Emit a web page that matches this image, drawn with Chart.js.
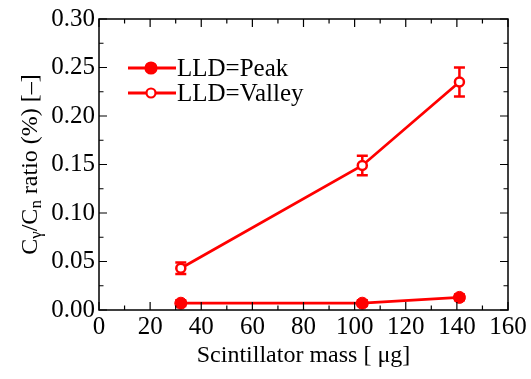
<!DOCTYPE html>
<html>
<head>
<meta charset="utf-8">
<script src="https://cdn.jsdelivr.net/npm/chart.js@4"></script>
<style>
  html, body { margin: 0; padding: 0; background: #fff; }
  #wrap { width: 531px; height: 379px; position: relative; }
</style>
</head>
<body>
<div id="wrap"><canvas id="c" width="531" height="379"></canvas></div>
<script>
// ---- data ----
const masses = [32, 103, 141];
const peakRatio = [0.007, 0.007, 0.013];
const peakErr = [0.003, 0.003, 0.003];
const valleyRatio = [0.043, 0.149, 0.235];
const valleyErr = [0.006, 0.010, 0.015];
const seriesLabels = ['LLD=Peak', 'LLD=Valley'];
const xTitle = 'Scintillator mass [ \u03bcg]';
const yTitleParts = [['C', 0], ['\u03b3', 1], ['/C', 0], ['n', 1], [' ratio (%) [\u2013]', 0]];

const FONT = "'Liberation Serif', 'Times New Roman', serif";
const FS = 25;   // ticks & legend
const FT = 24;   // axis titles
const RED = '#ff0000';

const errors = [peakErr, valleyErr];

const framePlugin = {
  id: 'frame',
  beforeDatasetsDraw(chart) {
    const ctx = chart.ctx, xs = chart.scales.x, ys = chart.scales.y;
    ctx.save();
    ctx.strokeStyle = RED;
    ctx.lineWidth = 2.5;
    chart.data.datasets.forEach((ds, i) => {
      ds.data.forEach((p, j) => {
        const e = errors[i][j];
        const px = xs.getPixelForValue(p.x);
        const y1 = ys.getPixelForValue(p.y - e), y2 = ys.getPixelForValue(p.y + e);
        ctx.beginPath();
        ctx.moveTo(px, y1); ctx.lineTo(px, y2);
        ctx.moveTo(px - 5.5, y1); ctx.lineTo(px + 5.5, y1);
        ctx.moveTo(px - 5.5, y2); ctx.lineTo(px + 5.5, y2);
        ctx.stroke();
      });
    });
    ctx.restore();
  },
  afterDraw(chart) {
    const ctx = chart.ctx, a = chart.chartArea, xs = chart.scales.x, ys = chart.scales.y;
    ctx.save();
    ctx.strokeStyle = '#000';
    ctx.lineWidth = 1.5;
    ctx.strokeRect(a.left, a.top, a.right - a.left, a.bottom - a.top);
    ctx.lineWidth = 1.2;
    ctx.beginPath();
    for (let v = 0; v <= 160; v += 10) {
      const px = xs.getPixelForValue(v);
      const L = (v % 20 === 0) ? 8 : 4.5;
      ctx.moveTo(px, a.bottom); ctx.lineTo(px, a.bottom - L);
      ctx.moveTo(px, a.top); ctx.lineTo(px, a.top + L);
    }
    for (let k = 0; k <= 12; k++) {
      const v = k * 0.025;
      const py = ys.getPixelForValue(v);
      const L = (k % 2 === 0) ? 8 : 4.5;
      ctx.moveTo(a.left, py); ctx.lineTo(a.left + L, py);
      ctx.moveTo(a.right, py); ctx.lineTo(a.right - L, py);
    }
    ctx.stroke();

    // legend
    const rows = [68, 93];
    chart.data.datasets.forEach((ds, i) => {
      const y = rows[i];
      ctx.strokeStyle = RED; ctx.lineWidth = 2.8;
      ctx.beginPath(); ctx.moveTo(128, y); ctx.lineTo(176, y); ctx.stroke();
      ctx.beginPath(); ctx.arc(151, y, i === 0 ? 5.5 : 4.5, 0, Math.PI * 2);
      ctx.fillStyle = ds.pointBackgroundColor; ctx.fill();
      ctx.lineWidth = 2.2; ctx.stroke();
      ctx.fillStyle = '#000';
      ctx.font = FS + 'px ' + FONT;
      ctx.textBaseline = 'middle'; ctx.textAlign = 'left';
      ctx.fillText(ds.label, 177, y + 1);
    });

    // y title with subscripts
    ctx.translate(29, (a.top + a.bottom) / 2);
    ctx.rotate(-Math.PI / 2);
    const subFS = Math.round(FT * 0.7);
    let total = 0;
    yTitleParts.forEach(([t, sub]) => {
      ctx.font = (sub ? subFS : FT) + 'px ' + FONT;
      total += ctx.measureText(t).width;
    });
    let x = -total / 2;
    ctx.textBaseline = 'alphabetic'; ctx.textAlign = 'left'; ctx.fillStyle = '#000';
    yTitleParts.forEach(([t, sub]) => {
      ctx.font = (sub ? subFS : FT) + 'px ' + FONT;
      ctx.fillText(t, x, sub ? 12 : 8);
      x += ctx.measureText(t).width;
    });
    ctx.restore();
  }
};

new Chart(document.getElementById('c'), {
  type: 'line',
  data: {
    datasets: [
      {
        label: seriesLabels[0],
        data: masses.map((m, i) => ({ x: m, y: peakRatio[i] })),
        borderColor: RED, borderWidth: 2.8,
        pointRadius: 6, pointBackgroundColor: RED, pointBorderColor: RED, pointBorderWidth: 1
      },
      {
        label: seriesLabels[1],
        data: masses.map((m, i) => ({ x: m, y: valleyRatio[i] })),
        borderColor: RED, borderWidth: 2.8,
        pointRadius: 4.5, pointBackgroundColor: '#ffffff', pointBorderColor: RED, pointBorderWidth: 2.5
      }
    ]
  },
  options: {
    responsive: false,
    animation: false,
    layout: { padding: { left: 0, top: 19, right: 23, bottom: 0 } },
    plugins: { legend: { display: false }, tooltip: { enabled: false } },
    scales: {
      x: {
        type: 'linear', min: 0, max: 160,
        grid: { display: false, drawTicks: false },
        border: { display: false },
        ticks: { stepSize: 20, color: '#000', font: { family: FONT, size: FS }, padding: 2, maxRotation: 0 },
        title: { display: true, text: xTitle, color: '#000', font: { family: FONT, size: FT }, padding: { top: 0, bottom: 9 } },
        afterFit(s) { s.height = 69; }
      },
      y: {
        type: 'linear', min: 0, max: 0.3,
        grid: { display: false, drawTicks: false },
        border: { display: false },
        ticks: { stepSize: 0.05, color: '#000', font: { family: FONT, size: FS }, padding: 4,
                 callback: v => v.toFixed(2) },
        afterFit(s) { s.width = 99; }
      }
    }
  },
  plugins: [framePlugin]
});
</script>
</body>
</html>
